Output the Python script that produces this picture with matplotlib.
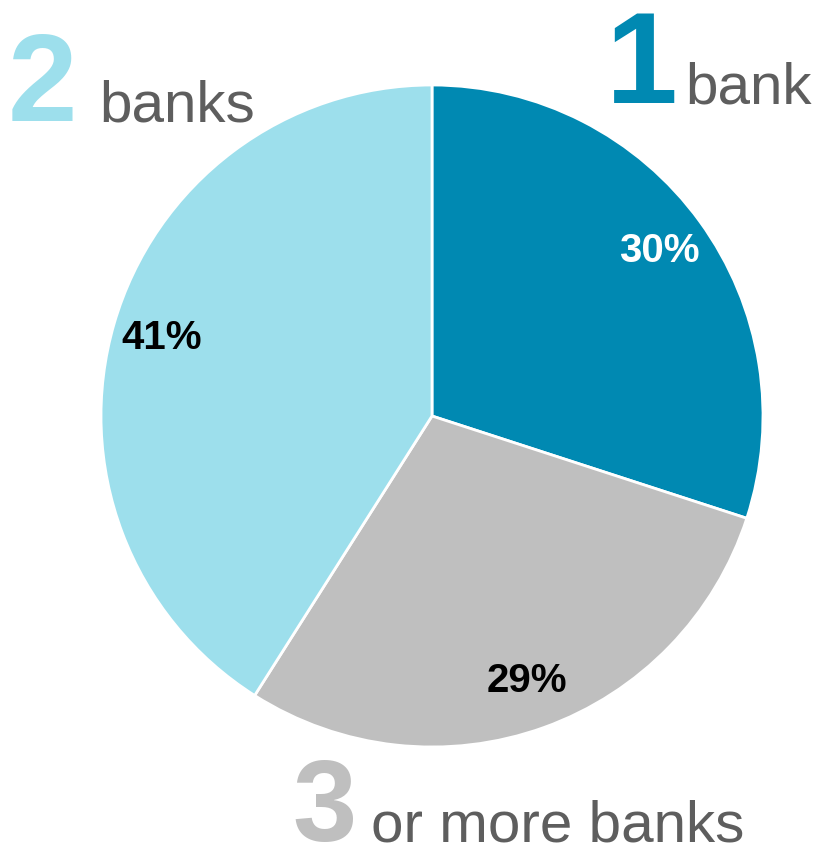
import matplotlib.pyplot as plt
import numpy as np

# share of respondents by number of banks used
categories = ["1 bank", "3 or more banks", "2 banks"]
shares = [30, 29, 41]
pct_labels = ["30%", "29%", "41%"]

colors = ["#0089B2", "#BFBFBF", "#9DDFEC"]
pct_colors = ["white", "black", "black"]
grey_text = "#5E5E5E"

W, H = 821, 851
fig = plt.figure(figsize=(W / 100, H / 100), dpi=100)
ax = fig.add_axes([0, 0, 1, 1])

# pie centre / radius in pixel units (y measured from bottom)
cx, cy, r = 432, H - 416, 331
wedges, texts = ax.pie(shares, colors=colors, startangle=90, counterclock=False,
                       center=(cx, cy), radius=r,
                       wedgeprops=dict(edgecolor="white", linewidth=2))
ax.set_xlim(0, W)
ax.set_ylim(0, H)
ax.set_aspect("equal")
ax.axis("off")

start = 90.0
for w, lab, c in zip(shares, pct_labels, pct_colors):
    mid = start - w * 3.6 / 2
    start -= w * 3.6
    d = 0.85 * r
    ax.text(cx + d * np.cos(np.radians(mid)), cy + d * np.sin(np.radians(mid)), lab,
            ha="center", va="center", fontsize=29, fontweight="bold", color=c,
            family="Liberation Sans")

# big category headings
big = dict(family="Liberation Sans", fontweight="bold", va="baseline", ha="left")
small = dict(family="Liberation Sans", va="baseline", ha="left", color=grey_text, fontsize=42)

ax.text(606, H - 103, "1", color=colors[0], fontsize=93, **big)
ax.text(685, H - 103, "bank", **small)

ax.text(8, H - 121, "2", color=colors[2], fontsize=90, **big)
ax.text(99, H - 121, "banks", **small)

ax.text(292, H - 841, "3", color=colors[1], fontsize=83, **big)
ax.text(371, H - 841, "or more banks", **small)

fig.savefig("out.png", dpi=100)
